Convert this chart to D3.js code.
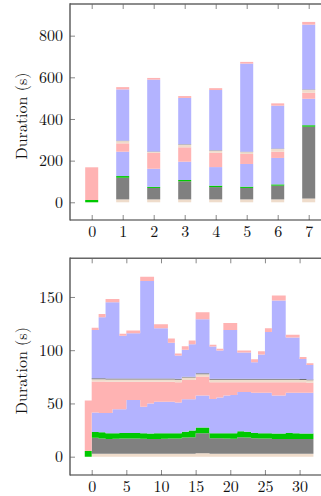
<!DOCTYPE html>
<html>
<head>
<meta charset="utf-8">
<script src="https://cdn.jsdelivr.net/npm/d3@7"></script>
<style>
  body { margin: 0; background: #fff; }
</style>
</head>
<body>
<div id="viz"></div>
<script>
var serif = "'Latin Modern Roman', 'Liberation Serif', serif";

// layer order, bottom to top
var layerKeys = ["beige1", "grey1", "green1", "blue1", "pink1", "beige2", "grey2", "blue2", "pink2"];
var layerColors = ["#efdccb", "#808080", "#00c800", "#b3b3ff", "#ffb3b3", "#efdccb", "#707070", "#b3b3ff", "#ffb3b3"];

// top chart: one bar per run
var bars = [0, 1, 2, 3, 4, 5, 6, 7];
var barBeige1 = [0, 14, 14, 14, 14, 14, 14, 18];
var barGrey1  = [0, 104, 55, 87, 59, 55, 66, 345];
var barGreen1 = [11, 8, 5, 6, 7, 6, 6, 7];
var barBlue1  = [0, 117, 87, 88, 89, 109, 127, 127];
var barPink1  = [157, 40, 76, 69, 69, 48, 30, 29];
var barBeige2 = [0, 11, 5, 13, 10, 9, 13, 14];
var barGrey2  = [0, 2, 2, 2, 2, 2, 2, 2];
var barBlue2  = [0, 246, 345, 222, 289, 423, 206, 311];
var barPink2  = [0, 11, 8, 9, 9, 8, 11, 13];
var barTicksY = [0, 200, 400, 600, 800];

// bottom chart: one step per interval, starting at -1
var steps = d3.range(-1, 32);
var stepBeige1 = [0, 2.7, 2.7, 2.7, 2.7, 2.7, 2.7, 2.7, 2.7, 2.7, 2.7, 2.7, 2.7, 2.7, 2.7, 2.7, 3.3, 3.3, 2.7, 2.7, 2.7, 2.7, 2.7, 2.7, 2.7, 2.7, 2.7, 2.7, 2.7, 2.7, 2.7, 2.7, 2.7];
var stepGrey1  = [0, 15.1, 14.3, 13.8, 14.1, 14.3, 14.3, 14.3, 14.1, 13.8, 13.8, 14.1, 14.3, 14.3, 15.3, 15.5, 18.7, 18.7, 14.6, 14.6, 14.3, 14.1, 15.5, 15.3, 14.6, 14.3, 14.3, 14.0, 13.8, 14.0, 14.0, 13.8, 13.8];
var stepGreen1 = [5.4, 5.4, 6, 5.5, 5.2, 5.2, 5.3, 5.3, 5.2, 5.3, 5.5, 5.2, 5, 5, 5.5, 6.3, 5.5, 5.5, 4.7, 4.7, 5, 5.2, 5.6, 5.5, 5, 5, 5, 5.1, 5.3, 5.5, 5.3, 5.3, 5.3];
var stepBlue1  = [0, 18.2, 18, 19, 22.5, 22.3, 31, 31, 25, 28.2, 29.7, 29.7, 29.5, 29, 30.5, 29.5, 29.9, 29.9, 32.2, 33.5, 35.4, 36, 37, 37.3, 37.7, 38, 38, 35.6, 35.6, 37.8, 38, 38.2, 38.2];
var stepPink1  = [47.3, 29.1, 29.5, 29.3, 25.8, 25.8, 17, 17, 23.3, 20.3, 18.6, 18.6, 18.8, 19, 18, 18, 17.8, 17.8, 15.8, 14.5, 12.6, 12, 9.2, 9.2, 10, 10, 10, 12.6, 12.6, 10, 10, 9.8, 9.5];
var stepBeige2 = [0, 2.3, 2.3, 2.3, 2.3, 2.3, 2.3, 2.3, 2.3, 2.3, 2.3, 2.3, 2.3, 2.3, 2.3, 2.3, 2.3, 2.3, 2.3, 2.3, 2.3, 2.3, 2.3, 2.3, 2.3, 2.3, 2.3, 2.3, 2.3, 2.3, 2.3, 2.3, 2.3];
var stepGrey2  = [0, 0.8, 0.8, 0.8, 0.8, 0.8, 0.8, 0.8, 0.8, 0.8, 0.8, 0.8, 0.8, 0.8, 0.8, 0.8, 0.8, 0.8, 0.8, 0.8, 0.8, 0.8, 0.8, 0.8, 0.8, 0.8, 0.8, 0.8, 0.8, 0.8, 0.8, 0.8, 0.8];
var stepBlue2  = [0, 45.4, 57.4, 71.6, 71.6, 40.1, 42.6, 42.6, 91.6, 91.6, 47.1, 47.1, 33.6, 21.9, 25.4, 30.4, 50.7, 50.7, 30.4, 26.5, 45.9, 45.9, 24.7, 24.7, 15.6, 22.9, 43.9, 73.6, 73.6, 38.9, 38.9, 18.9, 13.4];
var stepPink2  = [0, 2, 3, 3, 3, 2, 2.5, 2.5, 4, 4, 3.8, 3.8, 4, 1.8, 3.3, 3.5, 6.6, 6.6, 1.5, 1.7, 6.6, 6.6, 1.8, 1.8, 2.8, 3, 3.6, 4.6, 4.6, 2.4, 2.4, 1.9, 1.8];
var stepTicksX = [0, 5, 10, 15, 20, 25, 30];
var stepTicksY = [0, 50, 100, 150];

var svg = d3.select("#viz").append("svg")
    .attr("width", 321)
    .attr("height", 496);

function frame(g, x, y, top, bottom, xticks, yticks) {
  g.append("g")
      .attr("transform", "translate(0," + bottom + ")")
      .call(d3.axisBottom(x).tickValues(xticks).tickSize(-5).tickPadding(5.5).tickFormat(d3.format("d")))
      .call(styleAxis);
  g.append("g")
      .attr("transform", "translate(0," + top + ")")
      .call(d3.axisTop(x).tickValues(xticks).tickSize(-5).tickFormat(""))
      .call(styleAxis);
  g.append("g")
      .attr("transform", "translate(70,0)")
      .call(d3.axisLeft(y).tickValues(yticks).tickSize(-5).tickPadding(7).tickFormat(d3.format("d")))
      .call(styleAxis);

  g.append("line").attr("x1", 70).attr("x2", 330).attr("y1", top).attr("y2", top)
      .attr("stroke", "#666").attr("stroke-width", 1.4);
  g.append("line").attr("x1", 70).attr("x2", 330).attr("y1", bottom).attr("y2", bottom)
      .attr("stroke", "#333").attr("stroke-width", 1.2);
  g.append("line").attr("x1", 70).attr("x2", 70).attr("y1", top - 0.7).attr("y2", bottom + 0.6)
      .attr("stroke", "#555").attr("stroke-width", 1.4);

  g.append("text")
      .attr("transform", "translate(26.5," + ((top + bottom) / 2 + 4) + ") rotate(-90)")
      .attr("text-anchor", "middle")
      .style("font-family", serif)
      .style("font-size", "16px")
      .attr("fill", "#111")
      .text("Duration (s)");
}

function styleAxis(sel) {
  sel.attr("font-family", null).attr("font-size", null);
  sel.select(".domain").remove();
  sel.selectAll(".tick line").attr("stroke", "#888");
  sel.selectAll(".tick text")
      .attr("fill", "#111")
      .style("font-family", serif)
      .style("font-size", "16px");
}

// ---- top: stacked bars
var x1 = d3.scaleLinear().domain([-0.7, 7.687]).range([70, 330]);
var y1 = d3.scaleLinear().domain([-85, 952]).range([220, 4]);

var barRows = bars.map(function(b, i) {
  return {bar: b, beige1: barBeige1[i], grey1: barGrey1[i], green1: barGreen1[i],
          blue1: barBlue1[i], pink1: barPink1[i], beige2: barBeige2[i],
          grey2: barGrey2[i], blue2: barBlue2[i], pink2: barPink2[i]};
});
var barStack = d3.stack().keys(layerKeys)(barRows);
var bw = x1(0.21) - x1(-0.21);

var gTop = svg.append("g");
gTop.selectAll("g.layer")
    .data(barStack)
    .enter()
    .append("g")
    .attr("fill", function(d, i){ return layerColors[i]; })
  .selectAll("rect")
    .data(function(d){ return d; })
    .enter()
    .append("rect")
    .attr("x", function(d){ return x1(d.data.bar) - bw / 2; })
    .attr("width", bw)
    .attr("y", function(d){ return y1(d[1]); })
    .attr("height", function(d){ return y1(d[0]) - y1(d[1]); });

frame(gTop, x1, y1, 4, 220, bars, barTicksY);

// ---- bottom: stacked steps
var x2 = d3.scaleLinear().domain([-3.13, 34.39]).range([70, 330]);
var y2 = d3.scaleLinear().domain([-17.2, 186.3]).range([475, 258.3]);

var stepRows = steps.map(function(s, i) {
  return {step: s, beige1: stepBeige1[i], grey1: stepGrey1[i], green1: stepGreen1[i],
          blue1: stepBlue1[i], pink1: stepPink1[i], beige2: stepBeige2[i],
          grey2: stepGrey2[i], blue2: stepBlue2[i], pink2: stepPink2[i]};
});
var stepStack = d3.stack().keys(layerKeys)(stepRows);

var area = d3.area()
    .curve(d3.curveStepAfter)
    .x(function(d, j){ return x2(steps[0] + j); })
    .y0(function(d){ return y2(d[0]); })
    .y1(function(d){ return y2(d[1]); });

var gBot = svg.append("g");
gBot.selectAll("path.layer")
    .data(stepStack)
    .enter()
    .append("path")
    .attr("class", "layer")
    .attr("fill", function(d, i){ return layerColors[i]; })
    .attr("d", function(d){ return area(d.concat([d[d.length - 1]])); });

frame(gBot, x2, y2, 258.3, 475, stepTicksX, stepTicksY);
</script>
</body>
</html>
